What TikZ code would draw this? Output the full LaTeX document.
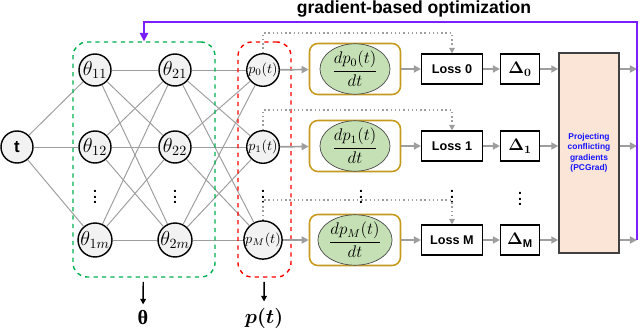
\documentclass[tikz,border=0pt]{standalone}
\usepackage{fontspec}
\usepackage{bm}
\setmainfont{Liberation Sans}
\newfontfamily\thetafont{Liberation Serif}
\usetikzlibrary{arrows.meta,positioning,fit,shapes.geometric,calc}
\definecolor{netgrey}{HTML}{9E9E9E}
\definecolor{nodefill}{HTML}{F2F2F2}
\definecolor{thetagreen}{HTML}{00B050}
\definecolor{pred}{HTML}{FF0000}
\definecolor{derivgold}{HTML}{C59A1E}
\definecolor{derivfill}{HTML}{C5E0B4}
\definecolor{pcgfill}{HTML}{FBE5D6}
\definecolor{pcgblue}{HTML}{1414FF}
\definecolor{optpurple}{HTML}{7A1FFF}

\begin{document}
\begin{tikzpicture}[x=0.025cm,y=-0.025cm,
  neuron/.style={circle,draw,line width=1pt,fill=nodefill,minimum size=0.8cm,inner sep=0pt},
  link/.style={netgrey,line width=0.7pt},
  flow/.style={netgrey,line width=1.2pt,-{Triangle[length=5pt,width=5pt]}},
  tap/.style={netgrey,line width=1pt,dotted,-{Triangle[length=4pt,width=4pt]}},
  lossbox/.style={draw,line width=0.8pt,minimum width=1.525cm,minimum height=0.75cm,font=\fontsize{9}{10}\selectfont\bfseries},
  deltabox/.style={draw,line width=0.8pt,minimum width=0.975cm,minimum height=0.75cm},
  derivbox/.style={draw=derivgold,line width=1.1pt,rounded corners=6pt,minimum width=2.275cm,minimum height=1.275cm},
  deriv/.style={ellipse,draw=black!70,line width=0.5pt,fill=derivfill,minimum width=1.75cm,minimum height=0.9cm,inner sep=0pt},
  group/.style={dashed,line width=1pt,rounded corners=10pt,inner sep=0pt},
  vdot/.style={inner sep=0pt},
  drop/.style={line width=1pt,-{Triangle[length=4pt,width=4pt]},shorten <=3pt,shorten >=1pt}]
\useasboundingbox (0,0) rectangle (640,328);

% network
\node[neuron] (t) at (17,147) {\large\bfseries t};
\foreach \i/\y/\k in {1/70/1,2/147/2,3/240/m} {
  \node[neuron] (a\i) at (95,\y) {\Large$\theta_{1\k}$};
  \node[neuron] (b\i) at (175,\y) {\Large$\theta_{2\k}$};
}
\foreach \i/\y/\k in {1/70/0,2/147/1,3/240/M}
  \node[neuron] (p\i) at (263,\y) {$p_{\k}(t)$};
\foreach \i in {1,2,3} {
  \draw[link] (t) -- (a\i);
  \foreach \j in {1,2,3} {
    \draw[link] (a\i) -- (b\j);
    \draw[link] (b\i) -- (p\j);
  }
}
\foreach \x in {95,175,263,361,452}
  \node[vdot] (vd\x) at (\x,193) {$\bm{\vdots}$};
\node[vdot] (vd520) at (520,195) {$\bm{\vdots}$};

\node[group,draw=thetagreen,fit={(73,42) (215,277)}] (thetabox) {};
\node[group,draw=pred,fit={(238,42) (291,277)}] (pbox) {};
\node (thlab) at (143,318) {\Large\thetafont\bfseries θ};
\node (ptlab) at (264,318) {\Large$\bm{p(t)}$};
\draw[drop] (thetabox) -- (thlab);
\draw[drop] (pbox) -- (ptlab);

% losses
\node[draw=black!75,line width=1pt,fill=pcgfill,minimum width=1.5cm,minimum height=5cm,align=center,
  text=pcgblue,font=\fontsize{6}{7.4}\selectfont\bfseries] (pcg) at (589,153)
  {Projecting\\conflicting\\gradients\\(PCGrad)};
\foreach \i/\y/\k/\s in {1/69/0/$\bm{\Delta_0}$,2/146/1/$\bm{\Delta_1}$,3/240/M/$\bm{\Delta}_{\mathbf{M}}$} {
  \node[derivbox] (g\i) at (355,\y) {};
  \node[deriv] (e\i) at (355,\y) {\large$\displaystyle\frac{dp_{\k}(t)}{dt}$};
  \node[lossbox] (l\i) at (452,\y) {Loss \k};
  \node[deltabox] (d\i) at (520,\y) {\large\s};
  \coordinate (o\i) at (637,\y);
  \coordinate (tp\i) at ($(p\i.north)+(0,-20)$);
  \draw[flow] (p\i) -- (g\i);
  \draw[flow] (g\i) -- (l\i);
  \draw[flow] (l\i) -- (d\i);
  \draw[flow] (d\i) -- (d\i -| pcg.west);
  \draw[flow] (pcg.east |- d\i) -- (o\i);
  \draw[tap] (p\i.north) -- (tp\i) -| (l\i.north);
}

% feedback
\node[font=\fontsize{12.5}{14}\selectfont\bfseries] (title) at (414,9) {gradient-based optimization};
\coordinate (fbtop) at (637,22);
\draw[optpurple,line width=1.2pt,-{Triangle[length=6pt,width=6pt]}] (o3) -- (fbtop) -| (thetabox.north);
\end{tikzpicture}
\end{document}
